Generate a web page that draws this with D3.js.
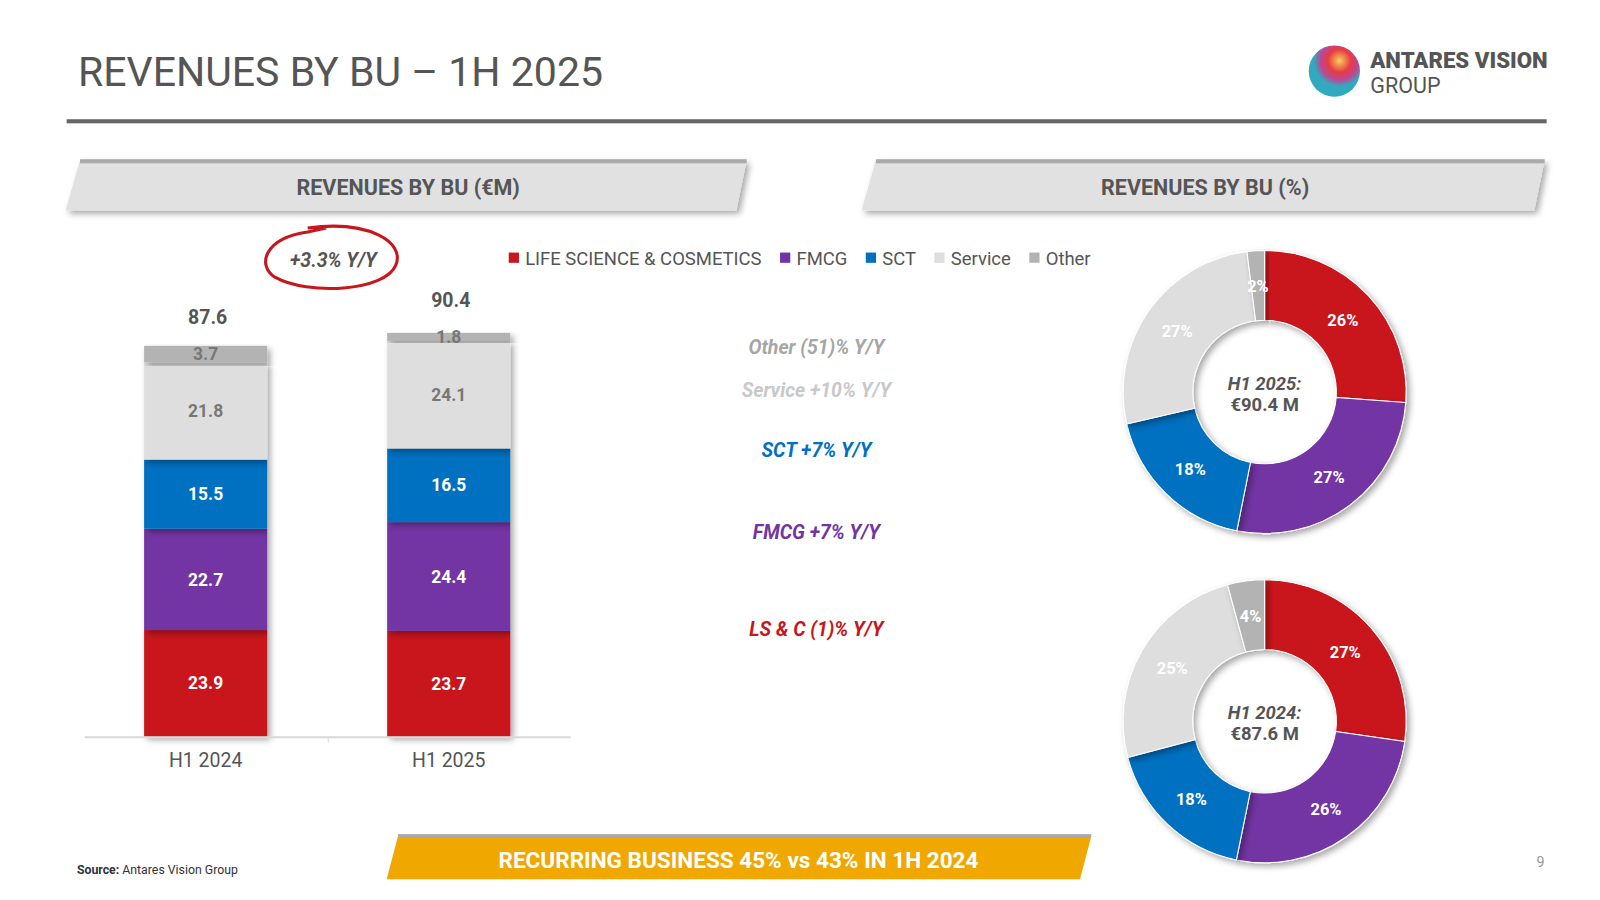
<!DOCTYPE html>
<html><head><meta charset="utf-8">
<script src="https://cdn.jsdelivr.net/npm/d3@7"></script>
<style>body{margin:0;background:#fff}svg{display:block;font-family:Roboto,sans-serif}</style>
</head><body><div id="chart"></div>
<script>
const periods = ['H1 2024', 'H1 2025'];
const segments = ['LIFE SCIENCE & COSMETICS', 'FMCG', 'SCT', 'Service', 'Other'];
const colors = ['#c8161d', '#7234a3', '#0070c0', '#dedede', '#b3b3b3'];
const lsc = [23.9, 23.7];
const fmcg = [22.7, 24.4];
const sct = [15.5, 16.5];
const service = [21.8, 24.1];
const other = [3.7, 1.8];
const totals = [87.6, 90.4];
const growth = [
  {text: 'LS & C (1)% Y/Y', c: '#c8161d', y: 620},
  {text: 'FMCG +7% Y/Y', c: '#7234a3', y: 525},
  {text: 'SCT +7% Y/Y', c: '#0070c0', y: 445},
  {text: 'Service +10% Y/Y', c: '#c8c8c8', y: 387},
  {text: 'Other (51)% Y/Y', c: '#a6a6a6', y: 345}
];
const series = [lsc, fmcg, sct, service, other];

const W = 1560, H = 877;
const svg = d3.select('#chart').append('svg')
  .attr('width', 1600).attr('height', 900).attr('viewBox', [0, 0, W, H]);

const defs = svg.append('defs');
const f = defs.append('filter').attr('id', 'sh').attr('x', '-10%').attr('y', '-10%').attr('width', '130%').attr('height', '130%');
f.append('feDropShadow').attr('dx', 3).attr('dy', 3).attr('stdDeviation', 3).attr('flood-opacity', 0.35);

// title
svg.append('text').attr('x', 76).attr('y', 84).attr('font-size', 40).attr('fill', '#555')
  .text('REVENUES BY BU – 1H 2025');
svg.append('rect').attr('x', 65).attr('y', 116).attr('width', 1443).attr('height', 4).attr('fill', '#666');

// logo
const grad = defs.append('radialGradient').attr('id', 'lg').attr('cx', '60%').attr('cy', '30%');
[['0%', '#f6c84a'], ['45%', '#e3262d'], ['75%', '#b3338c'], ['100%', '#1aa0b8']].forEach(s =>
  grad.append('stop').attr('offset', s[0]).attr('stop-color', s[1]));
svg.append('circle').attr('cx', 1301).attr('cy', 69).attr('r', 25).attr('fill', 'url(#lg)').attr('opacity', 0.9);
svg.append('text').attr('x', 1336).attr('y', 66).attr('font-size', 21).attr('font-weight', 900)
  .attr('fill', '#555').attr('textLength', 173).attr('lengthAdjust', 'spacingAndGlyphs').text('ANTARES VISION');
svg.append('text').attr('x', 1336).attr('y', 90).attr('font-size', 21).attr('fill', '#555').text('GROUP');

// section banners
function banner(x0, x1, label) {
  svg.append('path').attr('d', `M${x0 + 14},156 L${x1},156 L${x1 - 10},205 L${x0},205 Z`)
    .attr('fill', '#e1e1e1').attr('filter', 'url(#sh)');
  svg.append('rect').attr('x', x0 + 14).attr('y', 155).attr('width', x1 - x0 - 14).attr('height', 4).attr('fill', '#aaa');
  svg.append('text').attr('x', (x0 + x1) / 2 + 2).attr('y', 190).attr('text-anchor', 'middle')
    .attr('font-size', 21).attr('font-weight', 700).attr('fill', '#555').text(label);
}
banner(64, 728, 'REVENUES BY BU (€M)');
banner(840, 1506, 'REVENUES BY BU (%)');

// stacked bars
const x = d3.scaleBand().domain(periods).range([82, 556]);
const bw = 120;
const y = d3.scaleLinear().domain([0, 100]).range([718, 283]);
const rows = periods.map((p, i) => {
  const r = {period: p};
  segments.forEach((s, j) => r[s] = series[j][i]);
  return r;
});
const stack = d3.stack().keys(segments)(rows);
const bars = svg.append('g');
stack.forEach((layer, j) => {
  layer.forEach((d, i) => {
    const cx = x(periods[i]) + x.bandwidth() / 2;
    bars.append('rect').attr('x', cx - bw / 2).attr('width', bw)
      .attr('y', y(d[1])).attr('height', y(d[0]) - y(d[1]))
      .attr('fill', colors[j]).attr('filter', 'url(#sh)');
    bars.append('text').attr('x', cx).attr('y', (y(d[0]) + y(d[1])) / 2 + 6)
      .attr('text-anchor', 'middle').attr('font-size', 17).attr('font-weight', 700)
      .attr('fill', j < 3 ? '#fff' : '#777').text(series[j][i].toFixed(1));
  });
});
periods.forEach((p, i) => {
  const cx = x(p) + x.bandwidth() / 2;
  svg.append('text').attr('x', cx + 2).attr('y', y(totals[i]) - (i ? 26 : 21)).attr('text-anchor', 'middle')
    .attr('font-size', 19).attr('font-weight', 700).attr('fill', '#555').text(totals[i].toFixed(1));
});
const ax = svg.append('g').attr('transform', 'translate(0,718)')
  .call(d3.axisBottom(x).tickSize(0).tickPadding(16).tickSizeOuter(0));
ax.select('.domain').attr('stroke', '#d9d9d9').attr('stroke-width', 2);
ax.selectAll('text').attr('font-size', 19).attr('fill', '#555').attr('font-family', 'Roboto');
svg.append('line').attr('x1', 320).attr('x2', 320).attr('y1', 718).attr('y2', 724).attr('stroke', '#d9d9d9');

// Y/Y bubble
svg.append('text').attr('x', 325).attr('y', 260).attr('text-anchor', 'middle').attr('font-size', 19)
  .attr('font-weight', 700).attr('font-style', 'italic').attr('fill', '#555').text('+3.3% Y/Y');
svg.append('path').attr('d', 'M300,222 C360,214 395,236 386,258 C376,284 300,288 268,270 C250,258 258,232 300,226 L318,222')
  .attr('fill', 'none').attr('stroke', '#c8161d').attr('stroke-width', 3);

// legend
let lx = 496;
segments.forEach((s, j) => {
  svg.append('rect').attr('x', lx).attr('y', 246).attr('width', 10).attr('height', 10).attr('fill', colors[j]);
  const t = svg.append('text').attr('x', lx + 16).attr('y', 258).attr('font-size', 18).attr('fill', '#555').text(s);
  lx += 16 + t.node().getComputedTextLength() + 18;
});

// growth notes
growth.forEach(g => svg.append('text').attr('x', 796).attr('y', g.y).attr('text-anchor', 'middle')
  .attr('font-size', 19).attr('font-weight', 700).attr('font-style', 'italic').attr('fill', g.c).text(g.text));

// donuts
const pie = d3.pie().sort(null).value(d => d);
const arc = d3.arc().innerRadius(70).outerRadius(138);
function donut(cx, cy, i, label, amount) {
  const vals = series.map(s => s[i]);
  const tot = d3.sum(vals);
  const g = svg.append('g').attr('transform', `translate(${cx},${cy})`);
  const arcs = pie(vals);
  g.selectAll('path').data(arcs).join('path').attr('d', arc).attr('fill', (d, j) => colors[j])
    .attr('stroke', '#fff').attr('stroke-width', 1).attr('filter', 'url(#sh)');
  const lab = d3.arc().innerRadius(104).outerRadius(104);
  g.selectAll('text.p').data(arcs).join('text').attr('class', 'p')
    .attr('transform', d => `translate(${lab.centroid(d)})`).attr('dy', 6)
    .attr('text-anchor', 'middle').attr('font-size', 16).attr('font-weight', 700)
    .attr('fill', '#fff').text(d => Math.round(d.data / tot * 100) + '%');
  g.append('text').attr('y', -2).attr('text-anchor', 'middle').attr('font-size', 18).attr('font-weight', 700)
    .attr('font-style', 'italic').attr('fill', '#555').text(label);
  g.append('text').attr('y', 18).attr('text-anchor', 'middle').attr('font-size', 18).attr('font-weight', 700)
    .attr('fill', '#555').text(amount);
}
donut(1233, 382, 1, 'H1 2025:', '€90.4 M');
donut(1233, 703, 0, 'H1 2024:', '€87.6 M');

// footer
svg.append('path').attr('d', 'M388,815 L1064,815 L1053,857 L377,857 Z').attr('fill', '#f0a800');
svg.append('rect').attr('x', 388).attr('y', 813).attr('width', 676).attr('height', 3).attr('fill', '#aaa');
svg.append('text').attr('x', 720).attr('y', 846).attr('text-anchor', 'middle').attr('font-size', 22)
  .attr('font-weight', 700).attr('fill', '#fff').text('RECURRING BUSINESS 45% vs 43% IN 1H 2024');
const src = svg.append('text').attr('x', 75).attr('y', 852).attr('font-size', 12).attr('fill', '#333');
src.append('tspan').attr('font-weight', 700).text('Source: ');
src.append('tspan').text('Antares Vision Group');
svg.append('text').attr('x', 1506).attr('y', 845).attr('text-anchor', 'end').attr('font-size', 14).attr('fill', '#999').text('9');
</script></body></html>
